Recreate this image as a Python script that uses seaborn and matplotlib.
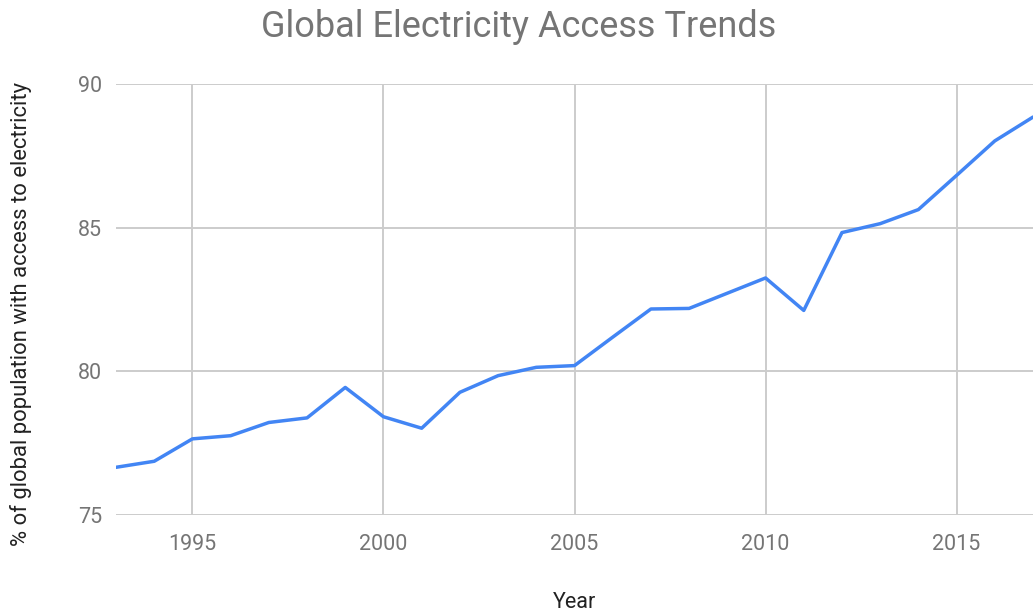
import matplotlib
matplotlib.use("Agg")
import matplotlib.pyplot as plt
import seaborn as sns
import pandas as pd

years = [1993, 1994, 1995, 1996, 1997, 1998, 1999, 2000, 2001, 2002, 2003, 2004,
         2005, 2006, 2007, 2008, 2009, 2010, 2011, 2012, 2013, 2014, 2015, 2016, 2017]
access_pct = [76.66, 76.87, 77.65, 77.76, 78.22, 78.38, 79.44, 78.42, 78.02, 79.27,
              79.85, 80.14, 80.20, 81.19, 82.17, 82.19, 82.72, 83.25, 82.12, 84.83,
              85.14, 85.63, 86.82, 88.02, 88.85]
x_ticks = [1995, 2000, 2005, 2010, 2015]
y_ticks = [75, 80, 85, 90]

df = pd.DataFrame({"Year": years, "Access": access_pct})

sns.set_style("white")
plt.rcParams["font.family"] = ["Roboto", "DejaVu Sans"]

text_grey = "#757575"
grid_grey = "#cccccc"

fig = plt.figure(figsize=(10.33, 6.12), dpi=100)
ax = fig.add_axes([0.1123, 0.1585, 0.8877, 0.7042])

sns.lineplot(data=df, x="Year", y="Access", ax=ax, color="#4285F4", linewidth=2.5)

ax.set_xlim(1993, 2017)
ax.set_ylim(75, 90)
ax.set_xticks(x_ticks)
ax.set_yticks(y_ticks)
ax.grid(True, color=grid_grey, linewidth=1.4)
ax.set_axisbelow(True)
for s in ax.spines.values():
    s.set_visible(False)
ax.tick_params(length=0, labelsize=15.5, labelcolor=text_grey, pad=10)
ax.tick_params(axis="x", pad=14)

ax.set_xlabel("Year", fontsize=15.5, color="#222222")
ax.xaxis.set_label_coords(0.5, -0.203)
ax.xaxis.label.set_verticalalignment("center")
ax.set_ylabel("% of global population with access to electricity", fontsize=15.8,
              color="#222222")
ax.yaxis.set_label_coords(-0.104, 0.466)
ax.yaxis.label.set_verticalalignment("center")

fig.suptitle("Global Electricity Access Trends", fontsize=26, color=text_grey,
             x=0.502, y=0.985)

fig.savefig("out.png", dpi=100)
